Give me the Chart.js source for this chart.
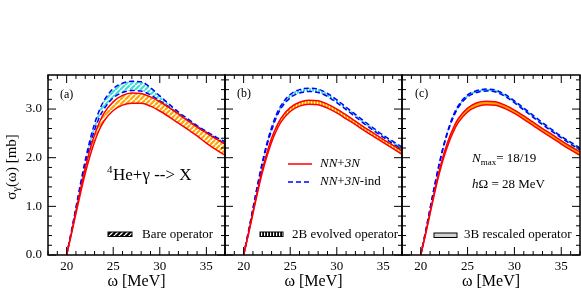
<!DOCTYPE html>
<html>
<head>
<meta charset="utf-8">
<script src="https://cdn.jsdelivr.net/npm/chart.js@4.4.1/dist/chart.umd.min.js"></script>
<style>
  html, body { margin: 0; padding: 0; background: #fff; }
  #wrap { position: relative; width: 581px; height: 290px; }
  #wrap canvas { position: absolute; left: 0; top: 0; }
</style>
</head>
<body>
<div id="wrap">
  <canvas id="panelA" width="581" height="290"></canvas>
  <canvas id="panelB" width="581" height="290"></canvas>
  <canvas id="panelC" width="581" height="290"></canvas>
</div>
<script>
// photon energy grid (MeV)
var omega = [20, 20.5, 21, 21.5, 22, 22.5, 23, 23.5, 24, 25, 26, 27, 28, 29, 30, 31, 32, 33, 34, 35, 36, 37];

// (a) bare operator: NN+3N (red band) and NN+3N-ind (blue band)
var redUpA  = [0, 0.44, 0.90, 1.36, 1.79, 2.16, 2.47, 2.72, 2.91, 3.15, 3.28, 3.33, 3.32, 3.25, 3.15, 3.03, 2.90, 2.76, 2.63, 2.51, 2.39, 2.28];
var redLoA  = [0, 0.42, 0.85, 1.28, 1.68, 2.03, 2.33, 2.57, 2.75, 2.97, 3.08, 3.12, 3.12, 3.06, 2.96, 2.84, 2.71, 2.58, 2.45, 2.30, 2.17, 2.05];
var blueUpA = [0, 0.48, 0.98, 1.48, 1.95, 2.36, 2.70, 2.97, 3.17, 3.42, 3.53, 3.57, 3.56, 3.44, 3.27, 3.10, 2.94, 2.80, 2.66, 2.54, 2.43, 2.33];
var blueLoA = [0, 0.46, 0.94, 1.42, 1.87, 2.25, 2.57, 2.82, 3.00, 3.23, 3.34, 3.38, 3.37, 3.29, 3.17, 3.04, 2.90, 2.77, 2.64, 2.52, 2.40, 2.29];

// (b) 2B evolved operator
var redUpB  = [0, 0.43, 0.88, 1.33, 1.75, 2.10, 2.40, 2.63, 2.81, 3.03, 3.14, 3.18, 3.17, 3.10, 3.00, 2.88, 2.75, 2.62, 2.50, 2.37, 2.26, 2.14];
var redLoB  = [0, 0.41, 0.85, 1.29, 1.69, 2.03, 2.32, 2.55, 2.73, 2.95, 3.06, 3.10, 3.09, 3.02, 2.92, 2.80, 2.68, 2.55, 2.43, 2.31, 2.19, 2.07];
var blueUpB = [0, 0.47, 0.96, 1.45, 1.90, 2.30, 2.62, 2.88, 3.07, 3.30, 3.40, 3.43, 3.41, 3.32, 3.19, 3.04, 2.89, 2.74, 2.60, 2.46, 2.34, 2.22];
var blueLoB = [0, 0.46, 0.94, 1.42, 1.86, 2.25, 2.56, 2.82, 3.01, 3.23, 3.33, 3.36, 3.34, 3.26, 3.13, 2.99, 2.84, 2.69, 2.55, 2.42, 2.29, 2.17];

// (c) 3B rescaled operator
var redUpC  = [0, 0.43, 0.88, 1.33, 1.75, 2.10, 2.39, 2.62, 2.80, 3.02, 3.13, 3.16, 3.15, 3.08, 2.98, 2.86, 2.73, 2.60, 2.48, 2.35, 2.23, 2.12];
var redLoC  = [0, 0.41, 0.85, 1.29, 1.69, 2.03, 2.31, 2.54, 2.72, 2.94, 3.05, 3.09, 3.08, 3.01, 2.91, 2.79, 2.66, 2.53, 2.41, 2.28, 2.16, 2.05];
var blueUpC = [0, 0.47, 0.96, 1.45, 1.90, 2.30, 2.62, 2.88, 3.07, 3.29, 3.38, 3.41, 3.39, 3.30, 3.17, 3.02, 2.87, 2.72, 2.58, 2.44, 2.32, 2.20];
var blueLoC = [0, 0.46, 0.95, 1.43, 1.88, 2.27, 2.59, 2.84, 3.03, 3.25, 3.34, 3.37, 3.35, 3.26, 3.13, 2.98, 2.83, 2.68, 2.54, 2.41, 2.28, 2.16];

// axes
var xTicks = [20, 25, 30, 35];
var yTicks = [0, 1, 2, 3];
var xMin = 18, xMax = 37, yMin = 0, yMax = 3.7;

var SERIF = "'Liberation Serif', 'DejaVu Serif', serif";
Chart.defaults.font.family = SERIF;
Chart.defaults.color = '#000';

function pts(ys) {
  return omega.map(function (x, i) { return { x: x, y: ys[i] }; });
}

// petits motifs de hachures
function diagPattern(bg, fg, s, w) {
  var c = document.createElement('canvas');
  c.width = c.height = s;
  var g = c.getContext('2d');
  g.fillStyle = bg; g.fillRect(0, 0, s, s);
  g.strokeStyle = fg; g.lineWidth = w;
  g.beginPath();
  [-s, 0, s].forEach(function (k) { g.moveTo(k, s); g.lineTo(k + s, 0); });
  g.stroke();
  return g.createPattern(c, 'repeat');
}
function vertPattern(bg, fg, s, w) {
  var c = document.createElement('canvas');
  c.width = s; c.height = 4;
  var g = c.getContext('2d');
  g.fillStyle = bg; g.fillRect(0, 0, s, 4);
  g.fillStyle = fg; g.fillRect(0, 0, w, 4);
  return g.createPattern(c, 'repeat');
}

function txt(ctx, x, y, parts) {
  // parts: [text, size, italic, dy]
  parts.forEach(function (p) {
    ctx.font = (p[2] ? 'italic ' : '') + p[1] + 'px ' + SERIF;
    ctx.fillText(p[0], x, y + (p[3] || 0));
    x += ctx.measureText(p[0]).width;
  });
  return x;
}

// cadre + graduations internes sur les quatre côtés
var framePlugin = {
  id: 'frame',
  afterDraw: function (chart) {
    var ctx = chart.ctx, a = chart.chartArea, sx = chart.scales.x, sy = chart.scales.y;
    ctx.save();
    ctx.strokeStyle = '#000';
    ctx.lineWidth = 1;
    ctx.beginPath();
    for (var v = xMin; v <= xMax; v++) {
      var px = sx.getPixelForValue(v);
      var len = xTicks.indexOf(v) >= 0 ? 8 : 4;
      ctx.moveTo(px, a.bottom); ctx.lineTo(px, a.bottom - len);
      ctx.moveTo(px, a.top); ctx.lineTo(px, a.top + len);
    }
    for (var k = 0; k <= 18; k++) {
      var py = sy.getPixelForValue(k / 5);
      var l2 = k % 5 === 0 ? 8 : 4;
      ctx.moveTo(a.left, py); ctx.lineTo(a.left + l2, py);
      ctx.moveTo(a.right, py); ctx.lineTo(a.right - l2, py);
    }
    ctx.stroke();
    ctx.lineWidth = 1.5;
    ctx.strokeRect(a.left, a.top, a.right - a.left, a.bottom - a.top);
    ctx.restore();
  }
};

function legendBox(ctx, x, y, w, h, fill) {
  ctx.fillStyle = fill;
  ctx.fillRect(x, y, w, h);
  ctx.strokeStyle = '#000';
  ctx.lineWidth = 1;
  ctx.strokeRect(x, y, w, h);
}

function makePanel(id, padLeft, padRight, showY, series, fills, decor) {
  var lineStyle = { pointRadius: 0, borderWidth: 1.5, cubicInterpolationMode: 'monotone' };
  return new Chart(document.getElementById(id), {
    type: 'line',
    data: {
      datasets: [
        Object.assign({ data: pts(series[0]), borderColor: '#ff0000', fill: false }, lineStyle),
        Object.assign({ data: pts(series[1]), borderColor: '#ff0000', fill: 0, backgroundColor: fills[0] }, lineStyle),
        Object.assign({ data: pts(series[2]), borderColor: '#0000ff', borderDash: [5, 3], fill: false }, lineStyle),
        Object.assign({ data: pts(series[3]), borderColor: '#0000ff', borderDash: [5, 3], fill: 2, backgroundColor: fills[1] }, lineStyle)
      ]
    },
    options: {
      responsive: false,
      animation: false,
      devicePixelRatio: 1,
      layout: { padding: { left: padLeft, right: padRight, top: 75, bottom: 0 } },
      plugins: {
        legend: { display: false },
        tooltip: { enabled: false },
        filler: { drawTime: 'beforeDatasetsDraw' }
      },
      scales: {
        x: {
          type: 'linear', min: xMin, max: xMax,
          grid: { display: false, drawTicks: false },
          border: { display: false },
          afterBuildTicks: function (s) { s.ticks = xTicks.map(function (v) { return { value: v }; }); },
          afterFit: function (s) { s.height = 35; },
          ticks: { font: { size: 13 }, padding: 4, maxRotation: 0, callback: function (v) { return String(v); } },
          title: { display: true, text: 'ω [MeV]', font: { size: 16, lineHeight: 1 }, padding: { top: 0, bottom: 0 } }
        },
        y: {
          type: 'linear', min: yMin, max: yMax, display: showY,
          grid: { display: false, drawTicks: false },
          border: { display: false },
          afterBuildTicks: function (s) { s.ticks = yTicks.map(function (v) { return { value: v }; }); },
          afterFit: function (s) { s.width = showY ? 48 : 0; },
          ticks: { font: { size: 13 }, padding: 6, callback: function (v) { return v.toFixed(1); } }
        }
      }
    },
    plugins: [framePlugin, { id: 'decor' + id, afterDraw: function (chart) {
      var ctx = chart.ctx;
      ctx.save();
      ctx.fillStyle = '#000';
      decor(ctx);
      ctx.restore();
    } }]
  });
}

document.addEventListener('DOMContentLoaded', function () {
  // (a) bare operator
  makePanel('panelA', 0, 356, true, [redUpA, redLoA, blueUpA, blueLoA],
    [diagPattern('#ffffff', '#ffa500', 5, 2.2), diagPattern('#ffffff', '#40e0d0', 5, 2.2)],
    function (ctx) {
      ctx.textBaseline = 'middle';
      txt(ctx, 60, 95, [['(a)', 12]]);
      ctx.textBaseline = 'alphabetic';
      txt(ctx, 107, 173, [['4', 11]]);
      txt(ctx, 113, 180, [['He+γ --> X', 17]]);
      legendBox(ctx, 108, 232, 24, 4.5, diagPattern('#000000', '#ffffff', 5, 1.3));
      ctx.fillStyle = '#000';
      ctx.textBaseline = 'middle';
      txt(ctx, 142, 235, [['Bare operator', 13]]);
      // titre de l'axe y : σ_γ(ω) [mb]
      ctx.save();
      ctx.translate(12, 167);
      ctx.rotate(-Math.PI / 2);
      ctx.textBaseline = 'middle';
      ctx.font = '15px ' + SERIF;
      var w1 = ctx.measureText('σ').width;
      ctx.font = '11px ' + SERIF;
      var w2 = ctx.measureText('γ').width;
      ctx.font = '15px ' + SERIF;
      var w3 = ctx.measureText('(ω) [mb]').width;
      var x0 = -(w1 + w2 + w3) / 2;
      txt(ctx, x0, 0, [['σ', 15], ['γ', 11, false, 4], ['(ω) [mb]', 15]]);
      ctx.restore();
    });

  // (b) 2B evolved operator
  makePanel('panelB', 225, 179, false, [redUpB, redLoB, blueUpB, blueLoB],
    [vertPattern('#ffff99', '#ffa500', 3, 2), vertPattern('#ffffff', '#40e0d0', 3, 2)],
    function (ctx) {
      ctx.textBaseline = 'middle';
      txt(ctx, 237, 94, [['(b)', 12]]);
      ctx.lineWidth = 1.5;
      ctx.strokeStyle = '#ff0000';
      ctx.beginPath(); ctx.moveTo(288, 164); ctx.lineTo(312, 164); ctx.stroke();
      ctx.strokeStyle = '#0000ff';
      ctx.setLineDash([5, 3]);
      ctx.beginPath(); ctx.moveTo(288, 182); ctx.lineTo(312, 182); ctx.stroke();
      ctx.setLineDash([]);
      txt(ctx, 320, 164, [['NN', 13, true], ['+', 13], ['3N', 13, true]]);
      txt(ctx, 320, 182, [['NN', 13, true], ['+', 13], ['3N', 13, true], ['-ind', 13]]);
      legendBox(ctx, 260, 232, 23, 4.5, vertPattern('#000000', '#ffffff', 3, 1.2));
      ctx.fillStyle = '#000';
      txt(ctx, 292, 235, [['2B evolved operator', 13]]);
    });

  // (c) 3B rescaled operator
  makePanel('panelC', 402, 1, false, [redUpC, redLoC, blueUpC, blueLoC],
    ['#ffa500', '#40e0d0'],
    function (ctx) {
      ctx.textBaseline = 'middle';
      txt(ctx, 415, 94, [['(c)', 12]]);
      ctx.textBaseline = 'alphabetic';
      var xe = txt(ctx, 472, 162, [['N', 13, true], ['max', 9, false, 3]]);
      txt(ctx, xe, 162, [['= 18/19', 13]]);
      txt(ctx, 472, 188, [['h', 13, true], ['Ω = 28 MeV', 13]]);
      legendBox(ctx, 434, 233, 23, 4.5, '#d3d3d3');
      ctx.fillStyle = '#000';
      ctx.textBaseline = 'middle';
      txt(ctx, 464, 235, [['3B rescaled operator', 13]]);
    });
});
</script>
</body>
</html>
